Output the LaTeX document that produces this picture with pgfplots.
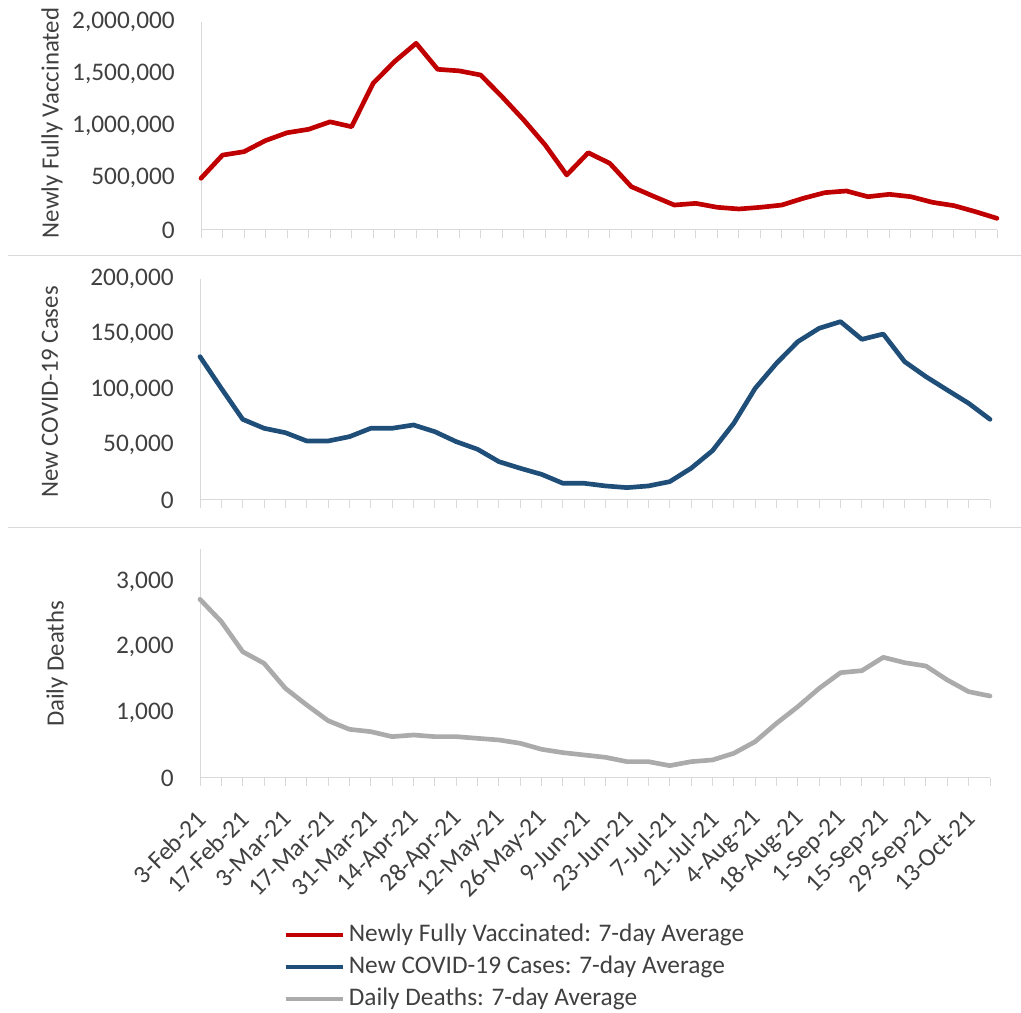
\documentclass[border=0pt]{standalone}
\usepackage{pgfplots}
\pgfplotsset{compat=1.18}
\usepackage{fontspec}
\setmainfont{Carlito}
\definecolor{vred}{HTML}{C00000}
\definecolor{cblue}{HTML}{1F4E79}
\definecolor{dgray}{HTML}{ABABAB}
\definecolor{axgray}{HTML}{D9D9D9}
\definecolor{txt}{HTML}{404040}
\newcommand{\lblfont}{\fontsize{19pt}{21pt}\selectfont}
\newcommand{\ylfont}{\fontsize{18.6pt}{21pt}\selectfont}

\pgfplotstableread{
x y
0 497000
1 720000
2 753000
3 860000
4 935000
5 968000
6 1040000
7 993000
8 1410000
9 1620000
10 1795000
11 1545000
12 1530000
13 1490000
14 1280000
15 1058000
16 817000
17 529000
18 743000
19 641000
20 417000
21 327000
22 240000
23 256000
24 218000
25 202000
26 218000
27 240000
28 305000
29 359000
30 375000
31 320000
32 343000
33 320000
34 266000
35 234000
36 176000
37 112000
}\vacctab

\pgfplotstableread{
x y
0 129700
1 101000
2 73000
3 64900
4 60900
5 53400
6 53400
7 57300
8 64900
9 64900
10 67900
11 61800
12 52800
13 45900
14 34700
15 28700
16 23200
17 15100
18 15100
19 12700
20 11200
21 12700
22 16600
23 28700
24 44600
25 69400
26 101000
27 123700
28 143300
29 155400
30 161400
31 145400
32 150200
33 125200
34 111600
35 99500
36 87500
37 73000
}\casestab

\pgfplotstableread{
x y
0 2735
1 2393
2 1933
3 1755
4 1372
5 1117
6 877
7 745
8 709
9 633
10 658
11 633
12 633
13 607
14 582
15 531
16 439
17 388
18 352
19 316
20 250
21 250
22 189
23 250
24 276
25 378
26 556
27 837
28 1092
29 1372
30 1612
31 1643
32 1847
33 1765
34 1714
35 1500
36 1321
37 1255
}\deathstab

\pgfplotsset{
  panel/.style={
    scale only axis,
    anchor=south west,
    xmin=0, xmax=37,
    ymin=0,
    clip=false,
    axis lines*=left,
    axis line style={axgray, line width=0.75pt},
    xtick={0,...,37},
    x tick style={axgray, line width=0.75pt},
    y tick style={draw=none},
    major tick length=6pt,
    tick align=outside,
    scaled y ticks=false,
    /pgf/number format/assume math mode=true,
    /pgf/number format/fixed,
    /pgf/number format/precision=0,
    /pgf/number format/1000 sep={,},
    y tick label style={anchor=east, inner sep=0pt, xshift=-13.5pt, font=\lblfont, text=txt},
    x tick label style={font=\lblfont, text=txt},
    every axis plot/.append style={line width=3.5pt, line join=round, line cap=round},
  }
}

\begin{document}
\begin{tikzpicture}
\useasboundingbox (0,0) rectangle (765.75pt,759.75pt);
\draw[axgray, line width=0.75pt] (6pt,567.75pt) -- (765.75pt,567.75pt);
\draw[axgray, line width=0.75pt] (6pt,363.75pt) -- (765.75pt,363.75pt);

\begin{axis}[panel, at={(150.75pt,587.25pt)}, width=597pt, height=156pt,
  ymax=2000000, ytick={0,500000,1000000,1500000,2000000}, xticklabels={}]
\addplot[vred] table[x=x,y=y] {\vacctab};
\end{axis}

\begin{axis}[panel, at={(150pt,384.75pt)}, width=592.5pt, height=165.75pt,
  ymax=200000, ytick={0,50000,100000,150000,200000}, xticklabels={}]
\addplot[cblue] table[x=x,y=y] {\casestab};
\end{axis}

\begin{axis}[panel, at={(150pt,176.25pt)}, width=592.5pt, height=171.5pt,
  ymax=3500, ytick={0,1000,2000,3000},
  xticklabels={3-Feb-21,,17-Feb-21,,3-Mar-21,,17-Mar-21,,31-Mar-21,,14-Apr-21,,28-Apr-21,,12-May-21,,26-May-21,,9-Jun-21,,23-Jun-21,,7-Jul-21,,21-Jul-21,,4-Aug-21,,18-Aug-21,,1-Sep-21,,15-Sep-21,,29-Sep-21,,13-Oct-21,},
  x tick label style={xshift=1.5pt, yshift=-21.5pt, rotate=45, anchor=east, inner sep=0pt},
  legend style={at={(axis description cs:0.105,-0.616)}, anchor=north west, draw=none, fill=none,
    inner sep=0pt, row sep=0pt, font=\lblfont, text=txt,
    nodes={inner sep=3pt, text height=13.5pt, text depth=4.5pt}, cells={anchor=west}},
  legend image code/.code={\draw[#1, line cap=butt] (0pt,0pt) -- (42.75pt,0pt);}]
\addlegendimage{vred, line width=3.5pt}
\addlegendentry{Newly Fully Vaccinated: 7-day Average}
\addlegendimage{cblue, line width=3.5pt}
\addlegendentry{New COVID-19 Cases: 7-day Average}
\addplot[dgray] table[x=x,y=y] {\deathstab};
\addlegendentry{Daily Deaths: 7-day Average}
\end{axis}

\node[rotate=90, text=txt, font=\ylfont] at (39pt,667.5pt) {Newly Fully Vaccinated};
\node[rotate=90, text=txt, font=\ylfont] at (37.5pt,465.75pt) {New COVID-19 Cases};
\node[rotate=90, text=txt, font=\ylfont] at (42.75pt,261.75pt) {Daily Deaths};
\end{tikzpicture}
\end{document}
